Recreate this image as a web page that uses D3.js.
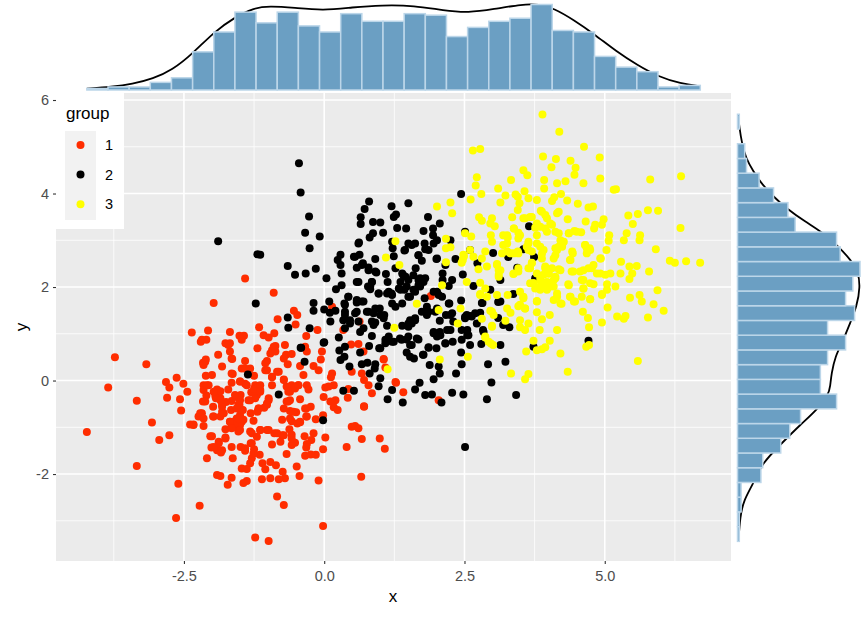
<!DOCTYPE html>
<html><head><meta charset="utf-8">
<script src="https://cdn.jsdelivr.net/npm/d3@7/dist/d3.min.js"></script>
<style>html,body{margin:0;padding:0;background:#fff}svg{display:block}text{font-family:"Liberation Sans",Arial,sans-serif}</style>
</head><body><svg id="c" width="866" height="619"></svg>
<script>
const group1=[[-4.23,-1.10],[-3.85,-0.15],[-3.73,0.50],[-3.34,-0.43],[-3.17,0.35],[-3.07,-0.90],[-2.94,-1.27],[-2.76,-1.17],[-3.34,-1.83],[-2.82,-0.03],[-2.76,-0.15],[-2.63,0.06],[-2.51,-0.07],[-2.44,-0.24],[-2.80,-0.37],[-2.57,-0.40],[-2.55,-0.64],[-2.60,-2.21],[-2.64,-2.94],[-2.22,-2.68],[-2.09,-1.66],[-2.36,1.03],[-2.07,1.07],[-2.20,0.83],[-2.10,0.87],[-1.97,1.66],[-0.90,1.88],[-1.89,0.55],[-2.16,0.38],[-2.11,0.45],[-1.82,0.30],[-2.11,0.10],[-2.00,0.12],[-2.15,-0.10],[-2.06,-0.10],[-2.15,-0.20],[-2.10,-0.32],[-2.16,-0.45],[-1.91,-0.19],[-1.94,-0.33],[-1.85,-0.38],[-1.98,-0.56],[-1.82,-0.52],[-2.18,-0.70],[-2.24,-0.77],[-1.98,-0.77],[-2.39,-0.94],[-2.33,-0.94],[-2.15,-0.97],[-1.82,-0.67],[-1.85,-0.77],[-1.71,-0.19],[-1.65,-0.05],[-1.63,0.14],[-1.50,-0.02],[-1.41,-0.07],[-1.41,0.42],[-1.47,0.26],[-1.32,0.26],[-1.25,0.10],[-1.76,0.80],[-1.68,0.80],[-1.68,1.04],[-1.51,0.96],[-1.43,0.96],[-1.47,0.87],[-1.68,0.62],[-1.64,0.46],[-1.19,0.69],[-1.16,1.14],[-1.08,0.97],[-0.99,0.92],[-0.89,1.01],[-0.83,1.31],[-0.54,1.49],[-0.48,1.40],[-0.51,1.20],[-0.32,0.95],[-0.12,1.08],[-0.93,0.65],[-0.87,0.74],[-0.96,0.58],[-1.02,0.42],[-1.05,0.22],[-0.93,0.07],[-0.81,0.19],[-0.72,0.02],[-0.93,-0.10],[-0.70,0.76],[-0.68,0.55],[-0.58,0.57],[-0.72,0.47],[-0.65,0.35],[-0.43,0.31],[-0.37,0.12],[-0.31,-0.10],[-0.28,-0.19],[-0.46,-0.10],[-0.58,-0.10],[-0.64,-0.24],[-0.61,-0.42],[-0.67,-0.45],[-0.43,-0.40],[-0.99,-0.38],[-1.02,-0.49],[-1.32,-0.42],[-1.20,-0.31],[-1.14,-0.20],[-1.23,-0.10],[-1.49,-0.31],[-1.56,-0.35],[-1.65,-0.44],[-1.51,-0.52],[-1.45,-0.63],[-1.50,-0.74],[-1.17,-0.60],[-1.19,-0.67],[-1.31,-0.70],[-1.66,-0.63],[-1.26,-0.86],[-0.75,-0.84],[-0.61,-0.65],[-0.50,-0.68],[-0.32,-0.60],[-0.24,-0.56],[-0.32,-0.77],[-0.15,-0.83],[-0.58,-0.87],[-0.48,-0.92],[-0.43,-0.89],[-0.19,0.31],[-0.10,0.22],[-0.06,0.45],[-0.04,0.62],[-0.31,0.62],[-0.34,0.72],[0.14,0.15],[0.12,0.07],[0.17,-0.10],[0.02,-0.15],[0.08,-0.13],[-0.01,-0.35],[0.11,-0.45],[0.20,-0.42],[0.17,-0.57],[0.24,-0.63],[-0.02,-0.74],[0.71,-0.55],[0.42,-0.37],[0.63,1.26],[-2.03,-1.19],[-1.76,-1.22],[-1.88,-1.31],[-2.01,-1.43],[-1.91,-1.49],[-1.84,-1.54],[-1.65,-1.42],[-1.63,-1.66],[-1.49,-1.42],[-1.41,-1.50],[-1.31,-1.34],[-1.25,-1.47],[-1.15,-1.59],[-1.29,-1.66],[-1.32,-1.77],[-1.47,-1.88],[-1.38,-1.89],[-1.10,-1.77],[-1.05,-1.90],[-0.96,-1.74],[-0.86,-1.81],[-0.74,-1.95],[-0.93,-1.37],[-0.78,-1.31],[-0.75,-1.17],[-0.89,-1.13],[-1.02,-1.06],[-1.14,-1.06],[-1.29,-1.13],[-1.20,-1.20],[-0.62,-1.04],[-0.58,-1.16],[-0.52,-1.33],[-0.58,-1.38],[-0.67,-1.57],[-0.49,-1.84],[-0.44,-2.04],[-0.70,-2.09],[-0.81,-2.11],[-0.96,-2.09],[-1.11,-2.11],[-1.38,-2.15],[-1.44,-2.19],[-1.65,-2.08],[-1.72,-2.23],[-1.91,-2.02],[-1.85,-2.04],[-0.10,-2.14],[0.66,-2.06],[-0.84,-2.48],[-0.72,-2.66],[-1.23,-3.36],[-0.99,-3.43],[-0.02,-3.11],[-0.35,-1.19],[-0.19,-1.13],[0.02,-1.22],[-0.23,-1.27],[-0.31,-1.36],[-0.32,-1.43],[-0.02,-1.47],[-0.34,-1.61],[-0.24,-1.58],[-0.15,-1.59],[0.40,-1.42],[0.49,-0.99],[0.55,-0.97],[0.61,-1.02],[0.67,-1.25],[0.99,-1.24],[1.08,-1.46],[-1.68,-0.88],[-1.62,-0.88],[-1.56,-0.81],[-1.47,-0.88],[-1.59,-0.99],[-1.50,-0.95],[-1.53,-1.09],[-1.76,-1.04],[-1.65,-0.95],[-1.44,-0.84],[1.06,0.45],[1.09,0.28],[1.28,-0.05],[0.67,0.15],[0.71,0.01],[0.79,-0.10],[0.85,-0.27],[0.49,0.19],[0.43,-0.18],[0.61,0.78],[0.48,0.77],[0.70,0.62],[0.34,1.08],[0.14,1.58],[-1.91,-0.27],[-1.85,-0.23],[-1.75,-0.46],[-1.56,-0.60],[-1.30,-0.25],[-1.25,-0.18],[-1.07,-0.58],[-1.41,2.18],[0.71,-0.56],[1.06,0.46],[1.27,-0.03],[1.41,-0.25],[1.90,1.81],[2.04,-0.42],[-1.59,-0.92],[-1.68,-0.88],[-1.53,-0.81],[-1.65,-1.02],[-1.50,-1.06],[-1.47,-0.63],[-1.53,-0.52],[-1.50,-0.42],[-1.59,-0.31],[-1.79,-0.70],[-1.97,-0.77],[-1.82,-0.56],[-1.93,-0.38],[-1.97,-0.24],[-1.85,-0.42],[-2.09,-0.10],[-2.12,-0.45],[-1.14,-0.10],[-1.14,-0.24],[-1.23,-0.38],[-1.35,-0.42],[-1.38,-0.10],[-1.50,-0.02],[-1.65,0.15],[-1.41,0.26],[-0.99,-0.42],[-1.02,-0.52],[-1.17,-0.60],[-0.67,-0.13],[-0.61,-0.24],[-0.52,-0.17],[-0.46,-0.10],[-0.64,-0.45],[-0.72,-0.60],[-0.55,-0.67],[-0.43,-0.88],[-0.34,-0.60],[-0.31,-0.77],[-0.61,-0.81],[-1.32,-1.09],[-1.14,-1.06],[-0.99,-1.06],[-0.84,-1.13],[-0.72,-1.17],[-0.58,-1.24],[-1.29,-1.34],[-1.41,-1.45],[-1.26,-1.56],[-1.88,-1.34],[-1.82,-1.49],[-1.97,-1.42],[-2.00,-1.19],[-1.76,-1.24],[-2.33,-0.95],[-2.21,-0.70],[-2.15,-0.81],[-2.12,0.40],[-2.15,0.33],[-2.18,0.87],[-1.71,0.76],[-1.65,0.47],[-0.87,0.62],[-0.90,0.72],[-1.05,0.37],[-1.02,0.22],[-0.84,0.19],[-0.93,0.08],[-0.72,0.01]];
const group2=[[-0.42,4.02],[-0.45,4.65],[-0.27,3.51],[-0.34,3.16],[-0.08,3.08],[-0.26,2.83],[-0.65,2.45],[-0.52,2.26],[-0.33,2.29],[-0.15,2.39],[0.04,2.19],[-1.89,2.98],[-1.19,2.70],[-1.14,2.69],[0.80,3.83],[0.72,3.67],[0.65,3.49],[0.65,3.35],[0.87,3.39],[1.00,3.38],[1.20,3.73],[1.50,3.79],[1.24,3.50],[1.28,3.55],[1.30,3.26],[1.46,3.25],[1.05,3.16],[0.87,3.15],[0.81,3.06],[0.62,2.95],[1.85,3.50],[2.06,3.36],[1.94,3.25],[1.77,3.20],[1.94,3.11],[2.01,3.00],[1.21,2.97],[1.22,2.83],[1.24,2.66],[1.43,2.78],[1.50,2.93],[1.62,2.93],[1.79,2.93],[1.95,2.93],[1.80,2.81],[1.68,2.68],[1.74,2.56],[2.00,2.60],[0.29,2.69],[0.24,2.58],[0.29,2.47],[0.31,2.29],[0.53,2.65],[0.63,2.69],[0.91,2.60],[0.69,2.51],[0.58,2.41],[0.79,2.42],[0.93,2.31],[1.10,2.28],[1.27,2.40],[0.58,2.11],[0.85,2.11],[0.78,2.01],[0.82,1.95],[0.31,2.04],[0.21,1.95],[0.97,1.86],[1.15,1.90],[1.20,1.86],[1.13,2.11],[1.33,1.97],[1.39,2.29],[1.45,2.22],[1.36,2.11],[1.50,2.15],[1.43,1.94],[1.50,1.79],[1.47,2.01],[1.68,2.15],[1.77,2.11],[1.62,1.90],[1.71,2.01],[1.63,2.40],[1.80,2.19],[2.11,2.29],[2.11,2.15],[2.28,2.15],[2.22,2.02],[2.01,1.90],[2.10,1.79],[1.79,1.76],[2.47,2.27],[2.16,2.47],[2.34,2.60],[2.66,2.02],[2.44,1.71],[2.23,1.65],[2.81,1.66],[3.14,1.69],[-0.19,1.66],[-0.19,1.49],[0.09,1.69],[0.00,1.52],[0.10,1.45],[0.20,1.49],[0.11,1.26],[0.43,1.79],[0.36,1.65],[0.37,1.47],[0.34,1.29],[0.46,1.22],[0.37,1.12],[0.58,1.67],[0.67,1.69],[0.58,1.47],[0.76,1.47],[0.88,1.44],[0.99,1.54],[1.07,1.40],[0.91,1.24],[0.70,1.12],[0.64,1.04],[1.27,1.58],[1.39,1.65],[1.21,1.65],[1.83,1.40],[1.98,1.47],[2.17,1.40],[2.28,1.44],[2.30,1.26],[2.06,1.28],[2.25,1.08],[2.54,1.40],[2.63,1.37],[2.72,1.22],[2.51,1.33],[2.84,1.04],[2.57,0.97],[2.60,0.76],[2.80,0.78],[3.14,0.76],[1.62,1.29],[1.56,1.22],[1.39,1.17],[1.50,1.15],[1.12,1.17],[1.65,0.90],[1.47,0.88],[1.35,0.90],[1.53,0.76],[1.95,1.04],[2.06,1.04],[2.01,0.94],[2.16,0.80],[2.29,0.83],[1.86,0.70],[2.00,0.69],[0.85,0.95],[1.15,0.94],[1.09,0.80],[1.24,0.83],[0.80,0.74],[0.98,0.69],[0.26,0.92],[-0.01,0.81],[0.27,0.64],[0.37,0.72],[0.64,0.60],[0.36,0.51],[0.29,0.44],[0.45,0.30],[0.67,0.35],[0.77,0.38],[0.91,0.35],[0.90,0.26],[0.81,0.15],[1.00,0.05],[0.97,-0.12],[1.47,0.60],[1.60,0.47],[1.76,0.55],[1.88,0.33],[2.04,0.30],[2.06,0.15],[1.95,0.03],[2.35,0.15],[2.45,0.35],[2.44,0.60],[2.92,0.35],[3.23,0.40],[2.98,-0.04],[3.42,-0.31],[2.90,-0.40],[2.48,-0.30],[2.28,-0.26],[2.09,-0.47],[1.92,-0.30],[1.80,-0.31],[1.70,-0.05],[1.62,-0.19],[1.40,-0.47],[1.13,-0.40],[1.21,-0.20],[0.53,-0.22],[0.34,-0.22],[-0.02,-0.85],[-0.35,0.40],[-0.41,0.70],[-0.26,1.12],[-0.65,1.35],[-0.64,1.13],[-1.22,1.65],[0.00,0.82],[-0.42,0.70],[-1.36,0.13],[-0.81,-0.30],[2.44,3.99],[3.65,3.30],[4.71,0.85],[3.01,2.73],[2.51,-1.42],[3.74,2.64],[3.28,2.64],[3.55,2.81],[3.14,2.15],[3.44,2.41],[2.73,2.51],[2.51,3.18],[2.25,3.00],[2.60,2.79],[3.37,1.85],[3.76,2.19],[2.96,1.94],[3.10,1.68],[2.82,1.66],[3.10,1.34],[3.30,1.14],[3.19,1.19],[2.83,1.08],[3.73,0.72],[2.69,1.44],[2.51,1.36],[2.60,1.38],[2.78,1.45],[2.55,1.08],[2.55,0.97],[1.41,2.25],[1.59,2.25],[1.71,2.19],[1.36,1.94],[1.53,1.79],[1.68,2.04],[1.59,1.94],[0.82,2.01],[0.85,2.11],[0.97,1.86],[1.12,1.86],[1.21,1.83],[0.67,2.47],[0.79,2.36],[0.91,2.33],[0.55,2.65],[0.61,2.11],[0.43,1.79],[0.37,1.62],[0.58,1.72],[0.70,1.69],[0.37,1.40],[0.46,1.29],[0.55,1.44],[0.61,1.26],[0.79,1.47],[0.91,1.54],[1.00,1.40],[1.06,1.33],[0.85,1.26],[0.88,1.19],[1.95,1.90],[2.04,1.83],[1.83,1.58],[1.86,1.47],[1.74,1.47],[1.53,1.29],[1.62,1.33],[1.50,1.22],[2.22,1.65],[2.01,1.54],[2.25,1.40],[1.95,1.01],[2.07,0.97],[2.19,1.08],[2.16,0.79],[2.45,0.87],[2.45,1.08],[1.50,0.94],[1.68,0.88],[1.38,0.87],[1.56,0.76],[1.09,0.87],[1.00,0.69],[1.21,0.83],[1.77,0.55],[1.53,0.51],[1.86,0.71],[1.56,2.90],[1.68,2.68],[1.86,2.79],[2.01,2.61],[1.44,2.79],[0.61,2.93]];
const group3=[[3.89,5.69],[4.19,5.32],[4.63,5.00],[4.91,4.77],[2.65,4.92],[2.78,4.95],[3.90,4.79],[4.13,4.74],[4.39,4.70],[4.05,4.56],[4.48,4.55],[4.46,4.40],[4.92,4.32],[5.81,4.30],[6.36,4.37],[3.55,4.50],[3.62,4.39],[2.72,4.35],[2.70,4.17],[2.80,3.99],[2.61,3.87],[2.25,3.81],[2.01,3.72],[2.28,3.58],[3.33,4.29],[3.10,4.11],[3.92,4.29],[3.92,4.11],[4.15,4.22],[4.30,4.26],[4.62,4.22],[5.16,4.08],[5.20,4.09],[3.57,4.05],[3.41,3.98],[3.23,3.96],[3.14,3.81],[3.45,3.93],[3.64,3.90],[3.48,3.79],[3.79,3.86],[4.22,3.99],[4.10,3.92],[4.06,3.84],[4.33,3.85],[4.52,3.78],[4.71,3.70],[4.79,3.72],[5.42,3.53],[5.59,3.56],[5.77,3.64],[5.95,3.63],[3.45,3.65],[3.35,3.49],[3.55,3.47],[3.67,3.50],[3.86,3.63],[3.94,3.54],[4.15,3.58],[4.34,3.45],[4.66,3.40],[4.83,3.33],[4.98,3.45],[4.95,3.33],[5.50,3.35],[6.35,3.26],[2.76,3.49],[2.81,3.42],[2.99,3.47],[2.96,3.36],[3.04,3.30],[3.38,3.25],[3.46,3.16],[3.79,3.36],[3.94,3.25],[4.03,3.36],[4.18,3.15],[4.36,3.15],[4.46,3.20],[4.58,3.17],[4.81,3.25],[5.08,3.11],[5.07,2.99],[5.39,3.15],[5.34,3.00],[5.63,3.11],[5.62,3.00],[2.51,3.15],[2.62,3.08],[2.17,3.03],[2.25,2.85],[2.17,2.83],[2.97,3.11],[2.99,2.97],[3.19,3.11],[3.27,3.06],[3.26,2.93],[3.46,3.04],[3.64,2.97],[3.79,3.11],[3.79,2.93],[4.27,2.97],[4.18,2.86],[4.65,2.90],[4.73,2.83],[5.03,2.79],[5.91,2.81],[2.60,2.79],[2.87,2.76],[3.17,2.72],[3.32,2.72],[3.45,2.76],[3.64,2.79],[3.88,2.71],[4.12,2.68],[4.43,2.72],[4.38,2.58],[4.68,2.72],[2.49,2.66],[2.66,2.65],[2.45,2.52],[2.17,2.53],[2.81,2.61],[3.88,2.61],[4.93,2.61],[5.29,2.54],[6.16,2.56],[6.25,2.52],[6.45,2.55],[6.70,2.52],[2.75,2.38],[2.90,2.44],[3.08,2.49],[3.11,2.36],[3.11,2.22],[3.37,2.28],[3.46,2.33],[3.70,2.52],[3.67,2.40],[3.94,2.44],[4.06,2.40],[4.18,2.38],[4.41,2.33],[4.56,2.33],[4.71,2.40],[4.80,2.47],[4.92,2.29],[5.10,2.29],[5.28,2.29],[5.44,2.44],[5.57,2.45],[5.49,2.29],[5.44,2.17],[5.79,2.33],[2.54,2.11],[2.78,2.09],[2.87,1.97],[3.67,2.08],[3.85,2.15],[3.97,2.11],[4.12,2.19],[3.76,1.97],[3.97,1.94],[4.09,2.01],[4.35,2.06],[4.59,2.15],[4.80,2.06],[5.04,2.06],[5.19,2.01],[4.62,1.97],[5.04,1.94],[2.78,1.85],[2.90,1.79],[3.08,1.83],[3.27,1.83],[3.49,1.90],[3.55,1.79],[4.15,1.79],[4.38,1.79],[4.59,1.79],[4.95,1.83],[4.74,1.74],[4.47,1.69],[4.23,1.64],[3.79,1.70],[5.45,1.77],[5.62,1.83],[5.66,1.69],[5.94,1.93],[5.87,1.63],[6.05,1.49],[3.46,1.59],[3.58,1.54],[3.26,1.54],[2.43,1.54],[2.04,1.51],[2.10,2.04],[2.96,1.49],[3.02,1.40],[3.32,1.45],[3.79,1.46],[3.88,1.31],[4.02,1.40],[4.61,1.47],[4.70,1.34],[5.05,1.56],[5.22,1.37],[5.34,1.32],[5.37,1.38],[5.77,1.35],[2.81,1.32],[3.23,1.28],[3.49,1.29],[3.64,1.22],[3.49,1.14],[3.58,1.08],[3.84,1.08],[4.15,1.08],[4.72,1.14],[4.95,1.24],[2.38,1.22],[2.99,1.15],[2.87,0.92],[2.93,0.83],[3.01,0.76],[3.73,0.85],[4.02,0.85],[3.94,0.71],[3.79,0.65],[3.60,0.62],[3.88,0.67],[4.67,0.72],[4.72,0.76],[4.21,0.58],[2.56,0.51],[2.06,0.45],[3.33,0.15],[3.64,0.14],[3.58,0.03],[4.34,0.19],[5.59,0.42],[1.27,2.98],[1.10,2.63],[1.34,2.47],[1.65,1.64],[1.25,1.13],[1.13,0.24],[2.48,2.69],[2.47,2.58],[2.78,1.83],[2.99,1.47],[2.99,1.17],[2.87,0.94],[2.97,0.79],[4.00,2.29],[4.09,2.15],[3.91,2.26],[4.03,2.08],[3.73,2.08],[3.79,2.29],[3.85,1.94],[3.61,2.86],[3.85,2.86],[4.24,2.86],[4.12,2.83],[3.88,3.61],[3.97,3.47],[3.85,3.29],[3.97,3.18],[4.12,3.18],[4.18,3.61],[3.70,3.50],[3.58,3.47],[4.36,3.15],[4.50,3.18],[4.24,2.90],[4.15,2.79],[4.42,2.76],[4.39,2.58],[4.09,2.61],[3.64,2.93],[3.70,2.76],[3.70,2.51],[3.64,2.40],[3.46,2.40],[3.94,2.40],[4.00,2.29],[4.21,2.36],[4.12,2.22],[3.85,2.22],[3.94,2.08],[3.73,2.08],[3.85,2.01],[4.03,2.01],[4.15,1.86],[4.21,1.65],[4.09,1.72],[4.44,2.33],[4.62,2.36],[4.77,2.40],[4.62,2.15],[4.86,2.29],[5.01,2.26],[4.36,2.04],[4.62,1.97],[4.74,2.08],[4.39,1.79],[4.74,1.74],[4.45,1.69],[4.95,1.85],[3.55,1.76],[3.79,1.69],[3.49,1.62],[3.58,1.54],[4.68,2.83],[4.65,2.90],[4.74,2.79],[4.92,2.61],[3.26,3.11],[3.19,2.90],[3.26,2.76],[3.38,2.72],[3.46,2.72],[3.38,3.25],[3.49,3.11],[3.08,2.47],[3.14,2.36],[3.11,2.26],[3.38,2.29],[3.76,3.27],[4.06,3.33],[3.91,2.79],[4.21,3.00]];
const topCounts=[1,2,2,5,8,25,38,51,44,51,42,38,50,45,45,50,49,35,41,45,47,56,39,38,22,15,12,2,3];
const topBinStart=-4.23, topBinWidth=0.377;
const topDensX=[-4.23,-3.79,-3.42,-3.05,-2.71,-2.34,-1.96,-1.58,-1.27,-0.98,-0.53,-0.02,0.50,1.02,1.61,2.13,2.57,3.02,3.53,3.83,4.09,4.45,4.83,5.21,5.58,5.96,6.35,6.71];
const topDensY=[.002,.006,.012,.024,.043,.080,.128,.161,.180,.185,.181,.175,.182,.187,.186,.175,.170,.178,.189,.189,.180,.154,.121,.084,.054,.028,.013,.007];
const rightCounts=[1,1,2,2,13,14,24,29,35,55,46,46,50,60,50,65,60,64,68,57,55,32,28,20,12,5,4,0,1];
const rightBinStart=-3.44, rightBinWidth=0.315;
const rightDensY=[5.70,5.43,5.07,4.75,4.47,4.25,3.93,3.68,3.40,3.18,2.88,2.56,2.33,2.01,1.58,1.23,0.87,0.51,0.15,-0.13,-0.29,-0.63,-0.95,-1.34,-1.77,-2.20,-2.56,-2.91,-3.44];
const rightDensX=[.001,.004,.010,.019,.036,.051,.081,.111,.152,.190,.227,.257,.272,.277,.269,.254,.239,.220,.212,.209,.206,.179,.141,.100,.055,.036,.014,.006,.002];
const xTicks=[-2.5,0,2.5,5], xTickLabels=["-2.5","0.0","2.5","5.0"];
const yTicks=[-2,0,2,4,6], yTickLabels=["-2","0","2","4","6"];
const xMinor=[-3.75,-1.25,1.25,3.75,6.25], yMinor=[-3,-1,1,3,5];
const groupNames=["1","2","3"], groupColors=["#FF2D00","#000000","#FFFF00"];

const svg=d3.select("#c");
const L=56,R=731,T=93,B=561;
const x=d3.scaleLinear().domain([-4.78,7.25]).range([L,R]);
const y=d3.scaleLinear().domain([-3.86,6.15]).range([B,T]);
svg.append("rect").attr("x",L).attr("y",T).attr("width",R-L).attr("height",B-T).attr("fill","#EBEBEB");
const grid=svg.append("g").attr("stroke","#fff").attr("fill","none");
xMinor.forEach(v=>grid.append("line").attr("x1",x(v)).attr("x2",x(v)).attr("y1",T).attr("y2",B).attr("stroke-width",0.8));
yMinor.forEach(v=>grid.append("line").attr("y1",y(v)).attr("y2",y(v)).attr("x1",L).attr("x2",R).attr("stroke-width",0.8));
xTicks.forEach(v=>grid.append("line").attr("x1",x(v)).attr("x2",x(v)).attr("y1",T).attr("y2",B).attr("stroke-width",1.6));
yTicks.forEach(v=>grid.append("line").attr("y1",y(v)).attr("y2",y(v)).attr("x1",L).attr("x2",R).attr("stroke-width",1.6));

[group1,group2,group3].forEach((g,i)=>{
  svg.append("g").selectAll("circle").data(g).join("circle")
    .attr("cx",d=>x(d[0])).attr("cy",d=>y(d[1])).attr("r",4).attr("fill",groupColors[i]);
});

const xAxis=d3.axisBottom(x).tickValues(xTicks).tickSize(3).tickPadding(7).tickFormat((d,i)=>xTickLabels[i]);
const yAxis=d3.axisLeft(y).tickValues(yTicks).tickSize(3).tickPadding(4).tickFormat((d,i)=>yTickLabels[i]);
const gx=svg.append("g").attr("transform",`translate(0,${B})`).call(xAxis);
const gy=svg.append("g").attr("transform",`translate(${L},0)`).call(yAxis);
[gx,gy].forEach(g=>{g.select(".domain").remove();
  g.selectAll("line").attr("stroke","#333").attr("stroke-width",1.1);
  g.selectAll("text").attr("fill","#4D4D4D").style("font-size","14.5px").style("font-family",'"Liberation Sans",Arial,sans-serif');});
svg.append("text").attr("x",393).attr("y",602).attr("text-anchor","middle").attr("font-size",17).text("x");
svg.append("text").attr("transform","translate(27,327) rotate(-90)").attr("text-anchor","middle").attr("font-size",17).text("y");

// legend
svg.append("rect").attr("x",L).attr("y",T).attr("width",68).attr("height",136).attr("fill","#fff");
svg.append("rect").attr("x",65).attr("y",131).attr("width",31).attr("height",89).attr("fill","#F2F2F2");
svg.append("text").attr("x",66).attr("y",119).attr("font-size",17).text("group");
groupNames.forEach((n,i)=>{
  const ky=145+i*29.6;
  svg.append("circle").attr("cx",80.5).attr("cy",ky).attr("r",4).attr("fill",groupColors[i]);
  svg.append("text").attr("x",105).attr("y",ky+5).attr("font-size",14.5).text(n);
});

const barFill="#6B9FC3", barStroke="#BCD6E9";
const topC=d3.scaleLinear().domain([0,56]).range([90,4.5]);
const topD=d3.scaleLinear().domain([0,.189]).range([89.5,4.2]);
svg.append("path").datum(topDensX.map((v,i)=>[v,topDensY[i]])).attr("fill","none").attr("stroke","#000").attr("stroke-width",1.8)
  .attr("d",d3.line().x(d=>x(d[0])).y(d=>topD(d[1])).curve(d3.curveBasis));
svg.append("g").selectAll("rect").data(topCounts).join("rect")
  .attr("x",(d,i)=>x(topBinStart+i*topBinWidth)).attr("width",x(topBinWidth)-x(0))
  .attr("y",d=>topC(d)).attr("height",d=>topC(0)-topC(d))
  .attr("fill",barFill).attr("stroke",barStroke).attr("stroke-width",1.5);
const rightC=d3.scaleLinear().domain([0,68]).range([737.5,860]);
const rightD=d3.scaleLinear().domain([0,.277]).range([737.5,860.3]);
svg.append("path").datum(rightDensY.map((v,i)=>[rightDensX[i],v])).attr("fill","none").attr("stroke","#000").attr("stroke-width",1.8)
  .attr("d",d3.line().x(d=>rightD(d[0])).y(d=>y(d[1])).curve(d3.curveBasis));
svg.append("g").selectAll("rect").data(rightCounts).join("rect")
  .attr("y",(d,i)=>y(rightBinStart+(i+1)*rightBinWidth)).attr("height",y(0)-y(rightBinWidth))
  .attr("x",rightC(0)).attr("width",d=>rightC(d)-rightC(0))
  .attr("fill",barFill).attr("stroke",barStroke).attr("stroke-width",1.5);
</script></body></html>
